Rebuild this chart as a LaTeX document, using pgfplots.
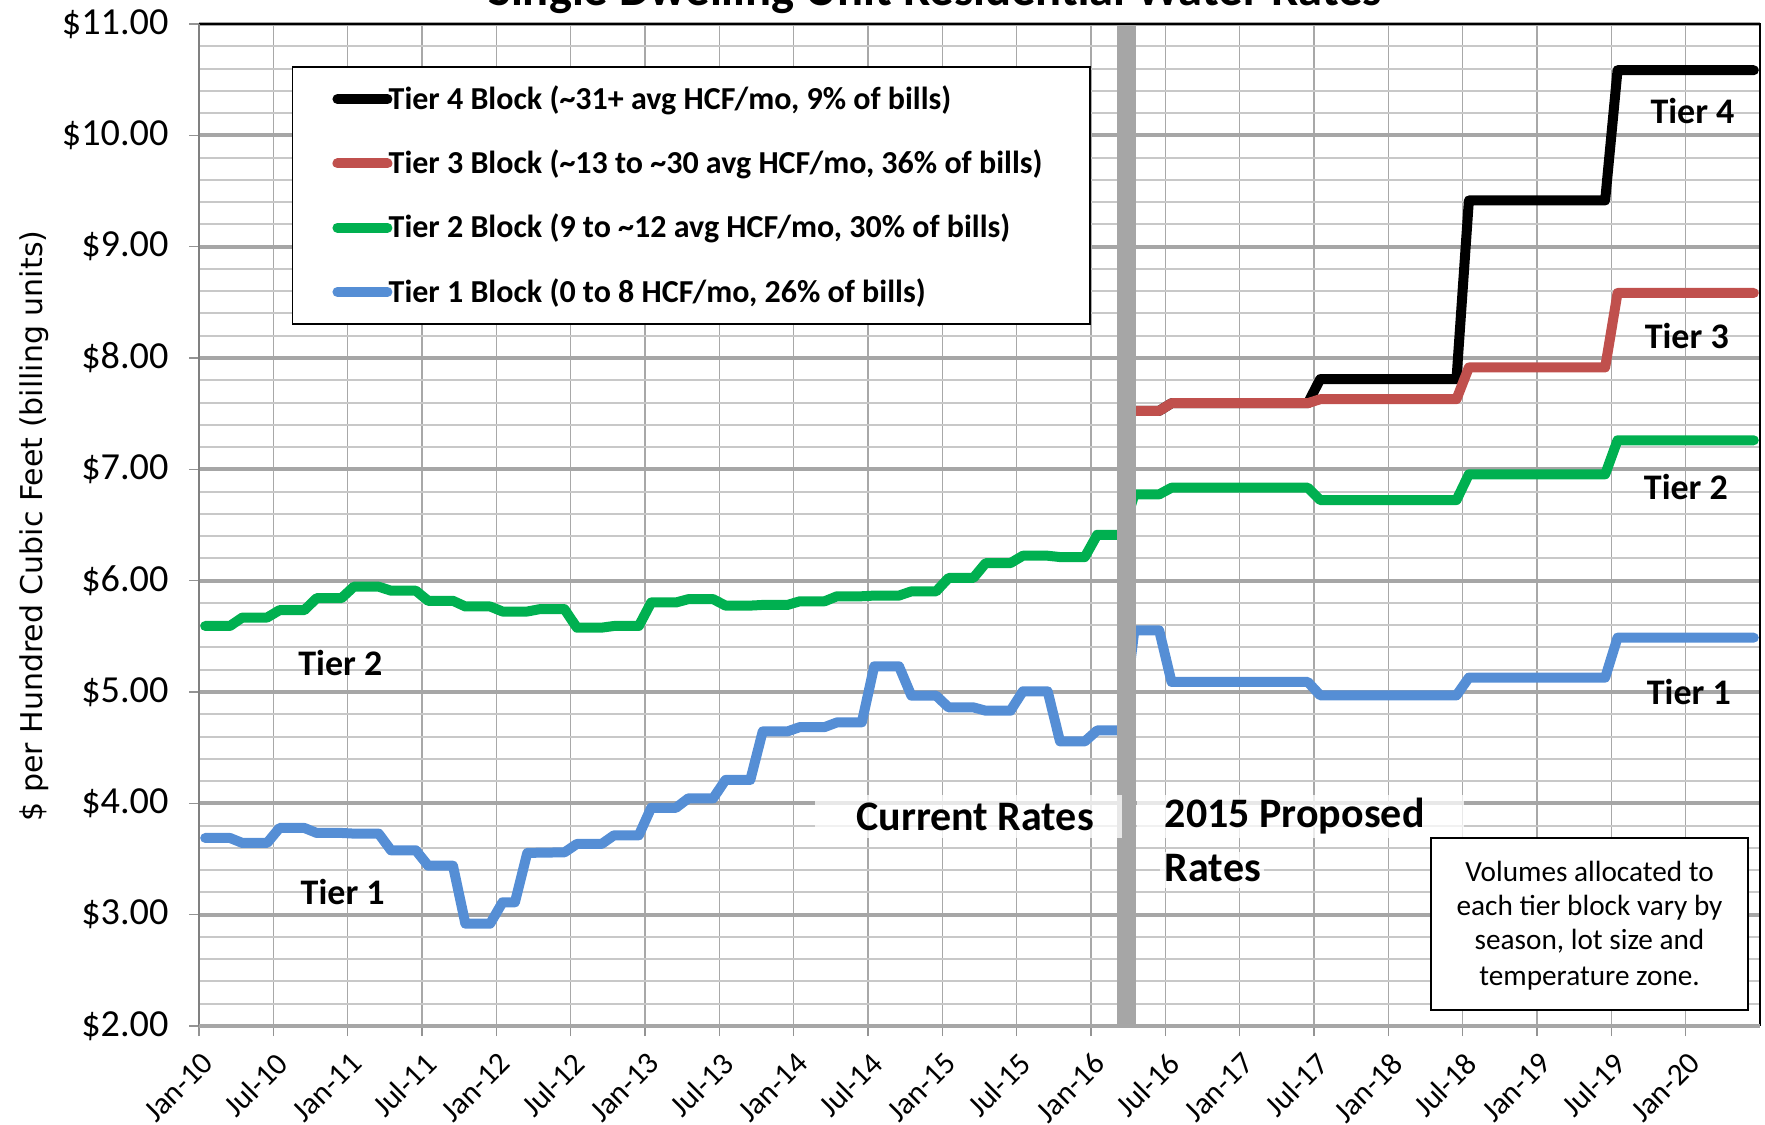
\documentclass[border=0pt]{standalone}
\usepackage{pgfplots}
\pgfplotsset{compat=1.18}
\usepackage{fontspec}
\setmainfont{Carlito}
\newfontfamily\labelfont{DejaVu Sans}
\definecolor{tfour}{HTML}{000000}
\definecolor{tthree}{HTML}{C0504D}
\definecolor{ttwo}{HTML}{00B050}
\definecolor{tone}{HTML}{558ED5}
\definecolor{gmaj}{HTML}{A6A6A6}
\definecolor{gmin}{HTML}{C8C8C8}
\definecolor{gvert}{HTML}{A8A8A8}

\pgfplotstableread{
m v
75.5 7.525
77.5 7.525
78.5 7.594
89.5 7.594
90.5 7.81
101.5 7.81
102.5 9.415
113.5 9.415
114.5 10.585
125.5 10.585
}\tierfour

\pgfplotstableread{
m v
75.5 7.525
77.5 7.525
78.5 7.594
89.5 7.594
90.5 7.63
101.5 7.63
102.5 7.915
113.5 7.915
114.5 8.584
125.5 8.584
}\tierthree

\pgfplotstableread{
m v
0.5 5.593
2.5 5.593
3.5 5.669
5.5 5.669
6.5 5.735
8.5 5.735
9.5 5.843
11.5 5.843
12.5 5.946
14.5 5.946
15.5 5.910
17.5 5.910
18.5 5.819
20.5 5.819
21.5 5.768
23.5 5.768
24.5 5.723
26.5 5.723
27.5 5.744
29.5 5.744
30.5 5.578
32.5 5.578
33.5 5.593
35.5 5.593
36.5 5.804
38.5 5.804
39.5 5.834
41.5 5.834
42.5 5.776
44.5 5.776
45.5 5.782
47.5 5.782
48.5 5.815
50.5 5.815
51.5 5.860
53.5 5.860
54.5 5.866
56.5 5.866
57.5 5.904
59.5 5.904
60.5 6.024
62.5 6.024
63.5 6.158
65.5 6.158
66.5 6.224
68.5 6.224
69.5 6.212
71.5 6.212
72.5 6.412
74.5 6.412
75.5 6.775
77.5 6.775
78.5 6.835
89.5 6.835
90.5 6.724
101.5 6.724
102.5 6.955
113.5 6.955
114.5 7.261
125.5 7.261
}\tiertwo

\pgfplotstableread{
m v
0.5 3.689
2.5 3.689
3.5 3.644
5.5 3.644
6.5 3.779
8.5 3.779
9.5 3.734
11.5 3.734
12.5 3.728
14.5 3.728
15.5 3.578
17.5 3.578
18.5 3.440
20.5 3.440
21.5 2.919
23.5 2.919
24.5 3.111
25.5 3.111
26.5 3.555
29.5 3.560
30.5 3.635
32.5 3.635
33.5 3.713
35.5 3.713
36.5 3.960
38.5 3.960
39.5 4.045
41.5 4.045
42.5 4.210
44.5 4.210
45.5 4.646
47.5 4.646
48.5 4.685
50.5 4.685
51.5 4.727
53.5 4.727
54.5 5.231
56.5 5.231
57.5 4.967
59.5 4.967
60.5 4.862
62.5 4.862
63.5 4.832
65.5 4.832
66.5 5.006
68.5 5.006
69.5 4.556
71.5 4.556
72.5 4.655
74.5 4.655
75.5 5.554
77.5 5.554
78.5 5.090
89.5 5.090
90.5 4.970
101.5 4.970
102.5 5.129
113.5 5.129
114.5 5.488
125.5 5.488
}\tierone

\begin{document}
\begin{tikzpicture}
\begin{axis}[
  name=ax,
  scale only axis,
  width=624.4pt, height=400.8pt,
  xmin=0, xmax=126, ymin=2, ymax=11,
  clip=false,
  axis line style={draw=none},
  tick align=outside,
  tick pos=left,
  major tick length=4pt,
  minor tick length=0pt,
  tick style={draw=gray!85, line width=0.6pt},
  xtick={0,6,...,120},
  xticklabels={Jan-10,Jul-10,Jan-11,Jul-11,Jan-12,Jul-12,Jan-13,Jul-13,Jan-14,Jul-14,Jan-15,Jul-15,Jan-16,Jul-16,Jan-17,Jul-17,Jan-18,Jul-18,Jan-19,Jul-19,Jan-20},
  ytick={2,3,4,5,6,7,8,9,10,11},
  yticklabels={\$2.00,\$3.00,\$4.00,\$5.00,\$6.00,\$7.00,\$8.00,\$9.00,\$10.00,\$11.00},
  minor y tick num=4,
  xmajorgrids, ymajorgrids, yminorgrids,
  major x grid style={draw=gvert, line width=0.5pt},
  major y grid style={draw=gmaj, line width=1.5pt},
  minor y grid style={draw=gmin, line width=0.8pt},
  yticklabel style={font=\fontsize{15.3}{17}\selectfont, inner sep=0pt, anchor=east, xshift=-8pt},
  xticklabel style={font=\fontsize{12.5}{14}\selectfont, inner sep=0pt, xshift=3.6pt, yshift=-8.8pt, rotate=45, anchor=east},
  ylabel={\$ per Hundred Cubic Feet (billing units)},
  ylabel style={font=\labelfont\fontsize{12}{14}\selectfont, at={(axis description cs:-0.1057,0.499)}, anchor=center, rotate=0},
  legend cell align=left,
  legend image code/.code={\draw[#1, line cap=round] (0pt,0pt) -- (20pt,0pt);},
  legend style={at={(axis description cs:0.0593,0.9578)}, anchor=north west,
    draw=black, line width=0.7pt, fill=white,
    font=\bfseries\fontsize{12.8}{14}\selectfont,
    inner xsep=16pt, inner ysep=6.4pt, row sep=12.9pt, column sep=-1.5pt,
    nodes={inner sep=0pt, text height=10.5pt, text depth=2.3pt}},
]
\addplot[color=tfour, line width=4pt, line join=round, line cap=round] table[x=m, y=v] {\tierfour};
\addlegendentry{Tier 4 Block (\textasciitilde31+ avg HCF/mo, 9\% of bills)}
\addplot[color=tthree, line width=4pt, line join=round, line cap=round] table[x=m, y=v] {\tierthree};
\addlegendentry{Tier 3 Block (\textasciitilde13 to \textasciitilde30 avg HCF/mo, 36\% of bills)\rule{3pt}{0pt}}
\addplot[color=ttwo, line width=4pt, line join=round, line cap=round] table[x=m, y=v] {\tiertwo};
\addlegendentry{Tier 2 Block (9 to \textasciitilde12 avg HCF/mo, 30\% of bills)}
\addplot[color=tone, line width=4pt, line join=round, line cap=round] table[x=m, y=v] {\tierone};
\addlegendentry{Tier 1 Block (0 to 8 HCF/mo, 26\% of bills)}

% divider bar
\addplot[color=gmaj, line width=7.6pt, forget plot] coordinates {(74.9,2) (74.9,11)};

% frame
\draw[black, line width=0.8pt] (rel axis cs:0,1) -- (rel axis cs:1,1) -- (rel axis cs:1,0);
\draw[gray, line width=0.6pt] (rel axis cs:0,0) -- (rel axis cs:0,1);
\draw[gmaj, line width=1.5pt] (rel axis cs:0,0) -- (rel axis cs:1,0);

% title (partly above the page edge, as in the reference)
\node[font=\bfseries\fontsize{19.4}{22}\selectfont, anchor=base, inner sep=0pt] at (rel axis cs:0.4715,1.018) {Single Dwelling Unit Residential Water Rates};

% faint white boxes behind labels
\fill[white, opacity=0.75] (axis cs:49.7,4.075) rectangle (axis cs:74.5,3.689);
\fill[white, opacity=0.75] (axis cs:75.7,4.075) rectangle (axis cs:102.1,3.689);
\fill[white, opacity=0.75] (axis cs:77.6,3.563) rectangle (axis cs:86.0,3.24);

\node[font=\bfseries\fontsize{16.8}{19}\selectfont, anchor=base, inner sep=0pt] at (axis cs:62.64,3.754) {Current Rates};
\node[font=\bfseries\fontsize{16.8}{19}\selectfont, anchor=base west, inner sep=0pt] at (axis cs:77.93,3.787) {2015 Proposed};
\node[font=\bfseries\fontsize{16.8}{19}\selectfont, anchor=base west, inner sep=0pt] at (axis cs:77.93,3.296) {Rates};

% tier labels
\node[font=\bfseries\fontsize{14.4}{16}\selectfont, anchor=base, inner sep=0pt] at (axis cs:11.41,5.150) {Tier 2};
\node[font=\bfseries\fontsize{14.4}{16}\selectfont, anchor=base, inner sep=0pt] at (axis cs:11.60,3.092) {Tier 1};
\node[font=\bfseries\fontsize{14.4}{16}\selectfont, anchor=base, inner sep=0pt] at (axis cs:120.55,10.108) {Tier 4};
\node[font=\bfseries\fontsize{14.4}{16}\selectfont, anchor=base, inner sep=0pt] at (axis cs:120.09,8.087) {Tier 3};
\node[font=\bfseries\fontsize{14.4}{16}\selectfont, anchor=base, inner sep=0pt] at (axis cs:120.02,6.726) {Tier 2};
\node[font=\bfseries\fontsize{14.4}{16}\selectfont, anchor=base, inner sep=0pt] at (axis cs:120.26,4.891) {Tier 1};

% note box
\draw[black, line width=0.7pt, fill=white] (axis cs:99.45,3.686) rectangle (axis cs:125.0,2.144);
\node[font=\fontsize{11.7}{14}\selectfont, anchor=base, inner sep=0pt] at (axis cs:112.24,3.302) {Volumes allocated to};
\node[font=\fontsize{11.7}{14}\selectfont, anchor=base, inner sep=0pt] at (axis cs:112.24,2.997) {each tier block vary by};
\node[font=\fontsize{11.7}{14}\selectfont, anchor=base, inner sep=0pt] at (axis cs:112.24,2.683) {season, lot size and};
\node[font=\fontsize{11.7}{14}\selectfont, anchor=base, inner sep=0pt] at (axis cs:112.24,2.368) {temperature zone.};

\coordinate (O) at (rel axis cs:0,0);
\end{axis}
\pgfresetboundingbox
\path[use as bounding box] ([shift={(-79.6pt,-39.2pt)}]O) rectangle ([shift={(626.4pt,410.4pt)}]O);
\end{tikzpicture}
\end{document}
